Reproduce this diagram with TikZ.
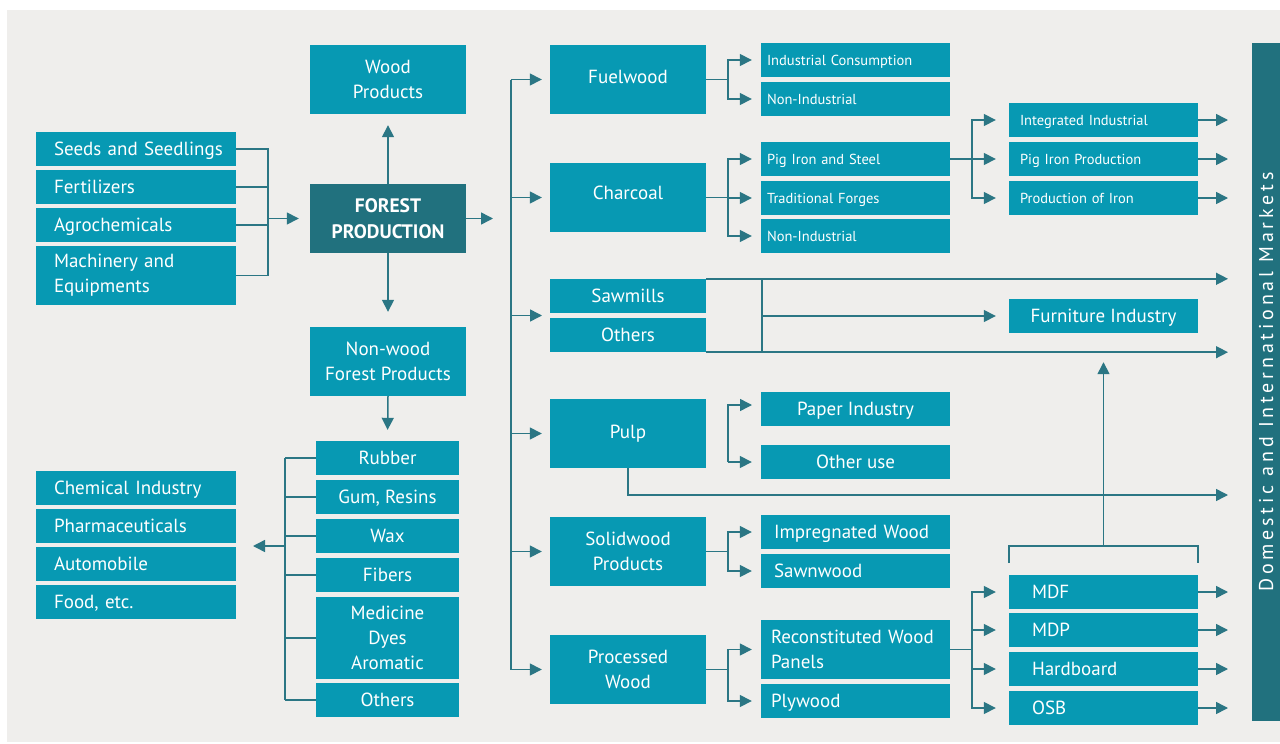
\documentclass[tikz,border=0pt]{standalone}
\usepackage{fontspec}
\setmainfont{PT Sans}
\newfontfamily\mktfont[LetterSpace=19]{PT Sans}
\usetikzlibrary{arrows.meta}
\definecolor{bgc}{HTML}{EFEEEC}
\definecolor{boxc}{HTML}{0799B3}
\definecolor{darkc}{HTML}{21717E}
\definecolor{linec}{HTML}{2B7684}
\newcommand\fsL{\fontsize{19}{25}\selectfont}
\newcommand\fsS{\fontsize{14.5}{17}\selectfont}
\begin{document}
\begin{tikzpicture}[x=1pt,y=-1pt,
  box/.style={fill=boxc, text=white, inner sep=0pt, font=\fsL, text depth=0pt},
  ml/.style={text depth=},
  cbox/.style={box, align=center},
  lbox/.style 2 args={box, align=left, text width=#1, inner xsep=#2},
  conn/.style={draw=linec, line width=1.5pt},
  arr/.style={conn, -{Triangle[length=12pt,width=12pt]}}]
\useasboundingbox (0,0) rectangle (1280,744);
\fill[white] (0,0) rectangle (1280,744);
\fill[bgc] (7,10) rectangle (1280,742);

% left inputs
\node[lbox={164pt}{18pt}, minimum height=34pt] (seeds) at (136,149) {Seeds~and~Seedlings};
\node[lbox={164pt}{18pt}, minimum height=34pt] (fert) at (136,187) {Fertilizers};
\node[lbox={164pt}{18pt}, minimum height=34pt] (agro) at (136,225) {Agrochemicals};
\node[lbox={164pt}{18pt}, ml, minimum height=59pt] (mach) at (136,275.5) {Machinery and\\Equipments};

% left outputs
\node[lbox={164pt}{18pt}, minimum height=34pt] (chem) at (136,488) {Chemical~Industry};
\node[lbox={164pt}{18pt}, minimum height=34pt] (pharm) at (136,526) {Pharmaceuticals};
\node[lbox={164pt}{18pt}, minimum height=34pt] (auto) at (136,564) {Automobile};
\node[lbox={164pt}{18pt}, minimum height=34pt] (food) at (136,602) {Food, etc.};

% centre column
\node[cbox, ml, minimum width=156pt, minimum height=69pt] (wood) at (388,79.5) {Wood\\Products};
\node[cbox, ml, fill=darkc, font=\fontsize{19.5}{26}\selectfont\bfseries, minimum width=156pt, minimum height=69pt] (fp) at (388,218.5) {FOREST\\PRODUCTION};
\node[cbox, ml, minimum width=156pt, minimum height=69pt] (nonwood) at (388,361.5) {Non-wood\\Forest Products};

% non-wood products
\node[cbox, minimum width=143pt, minimum height=34pt] (rubber) at (387.5,458) {Rubber};
\node[cbox, minimum width=143pt, minimum height=34pt] (gum) at (387.5,497) {Gum, Resins};
\node[cbox, minimum width=143pt, minimum height=34pt] (wax) at (387.5,536) {Wax};
\node[cbox, minimum width=143pt, minimum height=34pt] (fibers) at (387.5,575) {Fibers};
\node[cbox, ml, minimum width=143pt, minimum height=82pt] (med) at (387.5,638) {Medicine\\Dyes\\Aromatic};
\node[cbox, minimum width=143pt, minimum height=34pt] (oth) at (387.5,700) {Others};

% third column
\node[cbox, text depth=5pt, minimum width=156pt, minimum height=69pt] (fuel) at (628,79.5) {Fuelwood};
\node[cbox, text depth=9pt, minimum width=156pt, minimum height=69pt] (charcoal) at (628,197.5) {Charcoal};
\node[cbox, minimum width=156pt, minimum height=34pt] (saw) at (628,296) {Sawmills};
\node[cbox, minimum width=156pt, minimum height=34pt] (othS) at (628,335) {Others};
\node[cbox, text depth=3pt, minimum width=156pt, minimum height=69pt] (pulp) at (628,433.5) {Pulp};
\node[cbox, ml, minimum width=156pt, minimum height=69pt] (solid) at (628,551.5) {Solidwood\\Products};
\node[cbox, ml, minimum width=156pt, minimum height=69pt] (proc) at (628,669.5) {Processed\\Wood};

% fourth column
\node[lbox={177pt}{6pt}, font=\fsS, minimum height=34pt] (indcons) at (855.5,60) {Industrial Consumption};
\node[lbox={177pt}{6pt}, font=\fsS, minimum height=34pt] (nonind1) at (855.5,99) {Non-Industrial};
\node[lbox={177pt}{6pt}, font=\fsS, minimum height=34pt] (pigsteel) at (855.5,159) {Pig Iron and Steel};
\node[lbox={177pt}{6pt}, font=\fsS, minimum height=34pt] (forges) at (855.5,198) {Traditional Forges};
\node[lbox={177pt}{6pt}, font=\fsS, minimum height=34pt] (nonind2) at (855.5,236) {Non-Industrial};
\node[cbox, minimum width=189pt, minimum height=34pt] (paper) at (855.5,409) {Paper Industry};
\node[cbox, minimum width=189pt, minimum height=34pt] (otheruse) at (855.5,462) {Other use};
\node[lbox={163pt}{13pt}, minimum height=34pt] (impreg) at (855.5,532) {Impregnated~Wood};
\node[lbox={163pt}{13pt}, minimum height=34pt] (sawn) at (855.5,571) {Sawnwood};
\node[lbox={169pt}{10pt}, ml, minimum height=59pt] (recon) at (855.5,649.5) {Reconstituted~Wood\\Panels};
\node[lbox={169pt}{10pt}, minimum height=34pt] (ply) at (855.5,701) {Plywood};

% fifth column
\node[lbox={167pt}{11pt}, font=\fsS, minimum height=34pt] (integ) at (1103.5,120) {Integrated Industrial};
\node[lbox={167pt}{11pt}, font=\fsS, minimum height=34pt] (pigprod) at (1103.5,159) {Pig Iron Production};
\node[lbox={167pt}{11pt}, font=\fsS, minimum height=34pt] (prodiron) at (1103.5,198) {Production of Iron};
\node[cbox, minimum width=189pt, minimum height=34pt] (furn) at (1103.5,316) {Furniture Industry};
\node[lbox={143pt}{23pt}, minimum height=34pt] (mdf) at (1103.5,592) {MDF};
\node[lbox={143pt}{23pt}, minimum height=34pt] (mdp) at (1103.5,630) {MDP};
\node[lbox={143pt}{23pt}, minimum height=34pt] (hard) at (1103.5,669) {Hardboard};
\node[lbox={143pt}{23pt}, minimum height=34pt] (osb) at (1103.5,708) {OSB};

% markets bar
\node[fill=darkc, text=white, rotate=90, inner sep=0pt, minimum width=678pt, minimum height=28pt,
      text depth=0pt, font=\mktfont\fontsize{20}{22}\selectfont] (mkt) at (1266,382) {Domestic and International Markets};

% coordinates
\coordinate (jL) at (268,218.5);
\coordinate (fpout) at (493,218.5);
\coordinate (tx) at (511,0);
\coordinate (b1x) at (728,0);
\coordinate (b2x) at (972,0);
\coordinate (mk) at (1228,0);
\coordinate (sv) at (762,0);
\coordinate (nwx) at (285,0);
\coordinate (nwout) at (253,546);
\coordinate (sawin) at (550,315.5);
\coordinate (paperin) at (761,405);
\coordinate (pulpout) at (1228,495);
\coordinate (brL) at (1009,563);
\coordinate (brR) at (1198,563);
\coordinate (brTop) at (1103.5,546);

% inputs to forest production
\draw[conn] (seeds.east) -| (jL);
\draw[conn] (mach.east) -| (jL);
\draw[conn] (fert.east) -- (fert.east -| jL);
\draw[conn] (agro.east) -- (agro.east -| jL);
\draw[arr, shorten >=11pt] (jL) -- (fp.west);
\draw[arr, shorten >=11pt] (fp.north) -- (wood.south);
\draw[arr, shorten >=15pt] (fp.south) -- (nonwood.north);
\draw[arr, shorten >=11pt] (nonwood.south) -- (rubber.north);
\draw[arr] (fp.east) -- (fpout);

% non-wood bracket
\draw[conn] (rubber.west -| nwx) -- (oth.west -| nwx);
\foreach \n in {rubber,gum,wax,fibers,med,oth} \draw[conn] (\n.west -| nwx) -- (\n.west);
\draw[arr] (nwout -| nwx) -- (nwout);

% trunk
\draw[conn] (fuel.west -| tx) -- (proc.west -| tx);
\foreach \n in {fuel,charcoal,pulp,solid,proc} \draw[arr, shorten >=8pt] (\n.west -| tx) -- (\n.west);
\draw[arr, shorten >=8pt] (sawin -| tx) -- (sawin);

% fuelwood
\draw[conn] (fuel.east) -- (fuel.east -| b1x);
\foreach \n in {indcons,nonind1} \draw[arr, shorten >=9pt] (fuel.east -| b1x) |- (\n.west);

% charcoal
\draw[conn] (charcoal.east) -- (charcoal.east -| b1x);
\foreach \n in {pigsteel,forges,nonind2} \draw[arr, shorten >=9pt] (charcoal.east -| b1x) |- (\n.west);
\draw[conn] (pigsteel.east) -- (pigsteel.east -| b2x);
\foreach \n in {integ,pigprod,prodiron} \draw[arr, shorten >=13pt] (pigsteel.east -| b2x) |- (\n.west);

% to markets
\foreach \n in {integ,pigprod,prodiron,mdf,mdp,hard,osb} \draw[arr] (\n.east) -- (\n.east -| mk);

% sawmills / others
\draw[arr] (saw.north east) -- (saw.north east -| mk);
\draw[arr] (othS.south east) -- (othS.south east -| mk);
\draw[conn] (saw.north east -| sv) -- (othS.south east -| sv);
\draw[arr, shorten >=13pt] (furn.west -| sv) -- (furn.west);

% pulp
\draw[arr, shorten >=9pt] (otheruse.west -| b1x) |- (paperin);
\draw[arr, shorten >=9pt] (otheruse.west -| b1x) -- (otheruse.west);
\draw[arr] (pulp.south) |- (pulpout);

% solidwood
\draw[conn] (solid.east) -- (solid.east -| b1x);
\foreach \n in {impreg,sawn} \draw[arr, shorten >=9pt] (solid.east -| b1x) |- (\n.west);

% processed wood
\draw[conn] (proc.east) -- (proc.east -| b1x);
\foreach \n in {recon,ply} \draw[arr, shorten >=9pt] (proc.east -| b1x) |- (\n.west);
\draw[conn] (recon.east) -- (recon.east -| b2x);
\foreach \n in {mdf,mdp,hard,osb} \draw[arr, shorten >=13pt] (recon.east -| b2x) |- (\n.west);

% panels bracket to furniture
\draw[conn] (brL) |- (brTop) -| (brR);
\draw[arr, shorten >=29pt] (brTop) -- (furn.south);
\end{tikzpicture}
\end{document}
